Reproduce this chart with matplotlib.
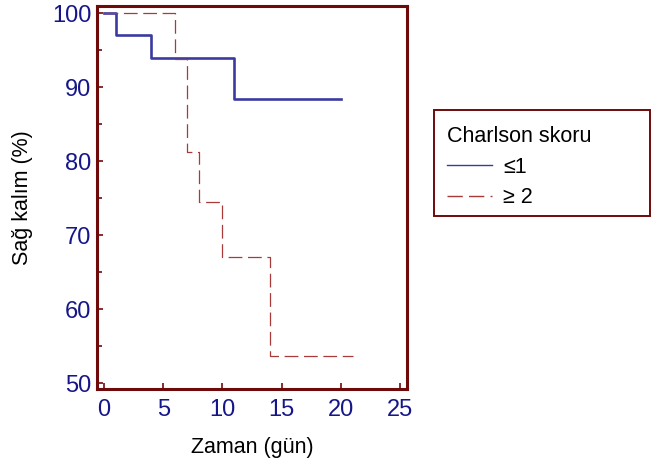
import matplotlib
matplotlib.use("Agg")
import matplotlib.pyplot as plt
from matplotlib.ticker import MultipleLocator
from matplotlib.patches import Rectangle

plt.rcParams['font.family'] = ['Liberation Sans', 'DejaVu Sans']

# Data
time_low = [0, 1, 4, 11, 20]
surv_low = [100, 96.97, 93.94, 88.37, 88.37]
time_high = [0, 6, 7, 8, 10, 14, 21]
surv_high = [100, 93.75, 81.25, 74.48, 67.03, 53.63, 53.63]
labels = ["≤1", "≥ 2"]
legend_title = "Charlson skoru"
xlabel = "Zaman (gün)"
ylabel = "Sağ kalım (%)"
xticks = [0, 5, 10, 15, 20, 25]
yticks = [50, 60, 70, 80, 90, 100]

frame_c = '#6e0a0a'
tick_c = '#16168a'

W, H = 651, 472
fig = plt.figure(figsize=(W/100, H/100), dpi=100)
ax = fig.add_axes([97/W, 1-389/H, (407-97)/W, (389-6)/H])

ax.step(time_low, surv_low, where='post', color='#3a3aa0', lw=1.9, label=labels[0])
ax.step(time_high, surv_high, where='post', color='#a83a3a', lw=0.9,
        dashes=(11, 4.5), label=labels[1])

ax.set_xlim(-0.6, 25.6)
ax.set_ylim(49.2, 100.95)
ax.set_xticks(xticks)
ax.set_yticks(yticks)
ax.yaxis.set_minor_locator(MultipleLocator(5))

for s in ax.spines.values():
    s.set_color(frame_c)
    s.set_linewidth(2.2)

ax.tick_params(axis='both', which='both', direction='in', color=frame_c,
               width=1.2, labelcolor=tick_c, labelsize=17)
ax.tick_params(axis='both', which='major', length=4.5)
ax.tick_params(axis='y', which='minor', length=3.5)
ax.tick_params(axis='x', pad=7)
ax.tick_params(axis='y', pad=4)

ax.set_xlabel(xlabel, fontsize=15.5, color='black', labelpad=12)
ax.set_ylabel(ylabel, fontsize=15.5, color='black', labelpad=14)

# legend frame drawn separately
fig.patches.append(Rectangle((434/W, 1-216/H), (650-434)/W, (216-110)/H,
                             transform=fig.transFigure, facecolor='white',
                             edgecolor=frame_c, linewidth=1.4, zorder=0))

leg = fig.legend(loc='upper left',
                 bbox_to_anchor=(434/W, 1-113/H),
                 title=legend_title, fontsize=15.5,
                 title_fontsize=15.5, alignment='left', frameon=False,
                 handlelength=2.1, handletextpad=0.5,
                 labelspacing=0.45, borderpad=0.6, borderaxespad=0)
for ln in leg.get_lines():
    ln.set_linewidth(1.0)

fig.savefig('out.png', dpi=100)
